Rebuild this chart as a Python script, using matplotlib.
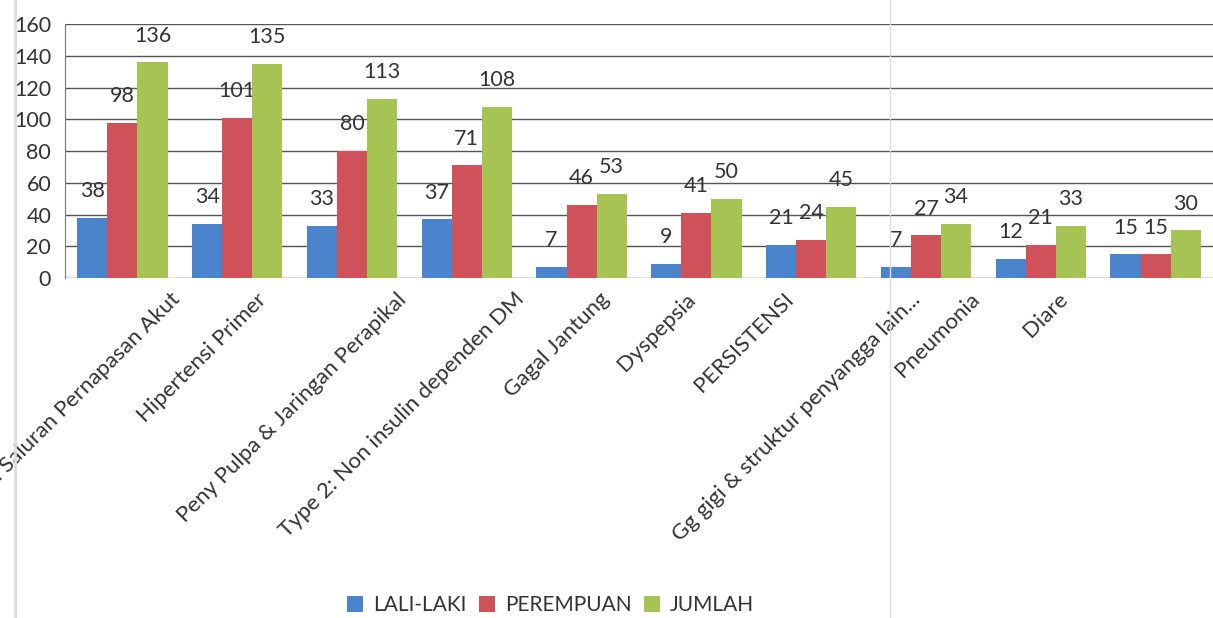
import matplotlib
matplotlib.use("Agg")
import matplotlib.pyplot as plt
import matplotlib.transforms as mtransforms
import numpy as np
from matplotlib.lines import Line2D

plt.rcParams['font.family'] = ['Lato', 'DejaVu Sans']

categories = ["Infeksi Saluran Pernapasan Akut", "Hipertensi Primer",
              "Peny Pulpa & Jaringan Perapikal", "Type 2: Non insulin dependen DM",
              "Gagal Jantung", "Dyspepsia", "PERSISTENSI",
              "Gg gigi & struktur penyangga lain...", "Pneumonia", "Diare"]
laki = [38, 34, 33, 37, 7, 9, 21, 7, 12, 15]
perempuan = [98, 101, 80, 71, 46, 41, 24, 27, 21, 15]
jumlah = [136, 135, 113, 108, 53, 50, 45, 34, 33, 30]
series_names = ["LALI-LAKI", "PEREMPUAN", "JUMLAH"]
colors = ["#4A84CC", "#CF525A", "#A6C454"]

# horizontal nudge (pixels) of each category label, as placed in the original
label_shift = [47, 19, 44, 47, 17, -11, -28, -16, -71, -98]

fig = plt.figure(figsize=(12.13, 6.18), dpi=100)
ax = fig.add_axes([0.0536, 0.55, 0.9464, 0.411])

x = np.arange(len(categories))
w = 0.262
for i, (vals, name, c) in enumerate(zip([laki, perempuan, jumlah], series_names, colors)):
    bars = ax.bar(x + (i - 1) * w, vals, w, color=c, label=name, zorder=3)
    for b, v in zip(bars, vals):
        ax.annotate(str(v), (b.get_x() + b.get_width() / 2, v), xytext=(0, 12),
                    textcoords='offset points', ha='center', va='bottom',
                    fontsize=15.5, color='#333333')

ax.set_ylim(0, 160)
ax.set_yticks(range(0, 161, 20))
ax.set_xlim(-0.5, len(categories) - 0.5)
ax.grid(axis='y', color='#555555', linewidth=1.0, zorder=0)
for s in ['top', 'right', 'bottom']:
    ax.spines[s].set_visible(False)
ax.spines['left'].set_color('#777777')
ax.tick_params(axis='y', length=0, labelsize=15.5, labelcolor='#333333', pad=10)
ax.tick_params(axis='x', length=0, labelsize=16, labelcolor='#333333', pad=8)
ax.set_xticks(x)
ax.set_xticklabels(categories, rotation=45, ha='right', rotation_mode='anchor')
for lab, dx in zip(ax.get_xticklabels(), label_shift):
    lab.set_transform(lab.get_transform() +
                      mtransforms.ScaledTranslation(dx / 100, 0, fig.dpi_scale_trans))

# faint page lines from the scan
fig.add_artist(Line2D([0.012, 0.012], [0, 1], color='#dddddd', linewidth=2))
fig.add_artist(Line2D([0.734, 0.734], [0, 1], color='#dddddd', linewidth=1))

handles, labels = ax.get_legend_handles_labels()
fig.legend(handles, labels, loc='lower center', bbox_to_anchor=(0.454, -0.026), ncol=3,
           frameon=False, fontsize=15, handlelength=0.75, handleheight=0.75,
           handletextpad=0.5, columnspacing=0.6, labelcolor='#333333')

fig.savefig("out.png", dpi=100, facecolor='white')
